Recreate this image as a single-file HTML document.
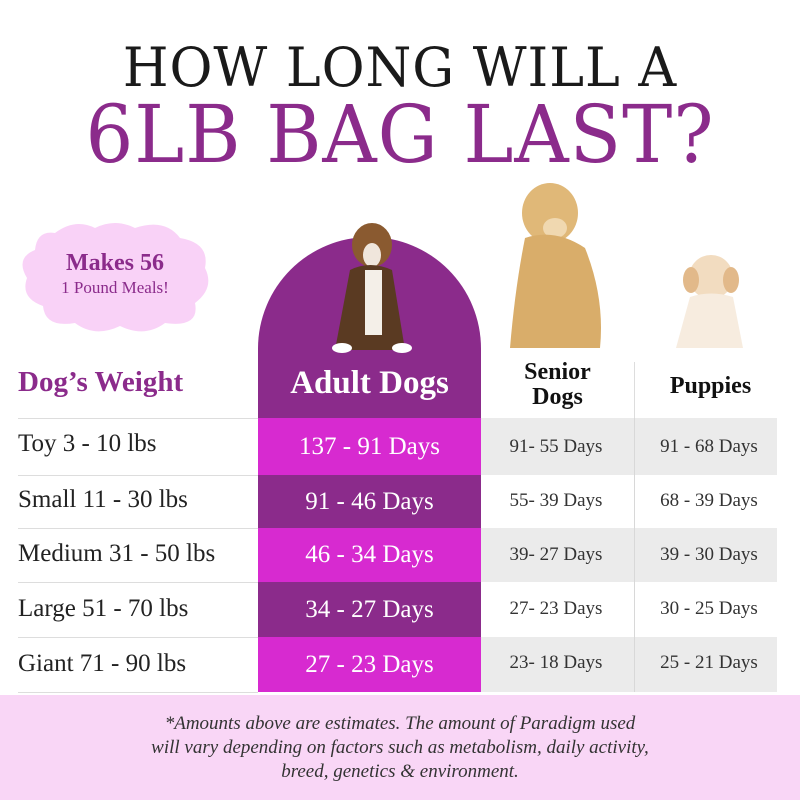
<!DOCTYPE html>
<html><head><style>
body{margin:0;width:800px;height:800px;background:#fff;position:relative;overflow:hidden;font-family:"Liberation Serif",serif;}
.a{position:absolute;}
.t1{top:36px;left:0;width:800px;text-align:center;font-size:54px;color:#1a1a1a;letter-spacing:1px;font-family:"DejaVu Serif",serif;font-weight:300;transform:scaleX(0.97);}
.t2{top:88px;left:0;width:800px;text-align:center;font-size:80px;color:#8b2b8b;letter-spacing:1px;font-family:"DejaVu Serif",serif;transform:scaleX(0.94);}
.lab{left:18px;font-size:25px;color:#222;}
.line{left:18px;width:240px;height:1px;background:#ddd;}
.ad{left:258px;width:223px;color:#fff;text-align:center;font-size:25px;}
.sd{text-align:center;font-size:19px;color:#333;font-family:"Liberation Serif",serif;}
</style></head><body>
<div class="a t1">HOW LONG WILL A</div>
<div class="a t2">6LB BAG LAST?</div>

<svg class="a" style="left:15px;top:218px" width="200" height="120" viewBox="0 0 200 120">
<path d="M40 15 Q60 0 80 10 Q100 0 120 10 Q150 0 165 20 Q195 25 190 50 Q200 70 180 85 Q185 110 150 105 Q130 120 105 108 Q80 120 60 105 Q30 110 28 88 Q5 80 12 60 Q0 40 20 32 Q22 12 40 15Z" fill="#f9d2f7"/>
</svg>
<div class="a" style="left:30px;top:250px;width:170px;text-align:center;color:#8b2b8b;font-size:24px;font-weight:bold;">Makes 56</div>
<div class="a" style="left:30px;top:278px;width:170px;text-align:center;color:#8b2b8b;font-size:17px;">1 Pound Meals!</div>

<div class="a" style="left:258px;top:237px;width:223px;height:181px;background:#8b2b8b;border-radius:112px 112px 0 0;"></div>
<svg class="a" style="left:320px;top:215px" width="100" height="145">
<ellipse cx="52" cy="30" rx="20" ry="22" fill="#8a5a30"/><ellipse cx="52" cy="40" rx="9" ry="12" fill="#f0e6dc"/>
<path d="M30 55 Q50 45 72 55 L85 135 L15 135Z" fill="#5a3a22"/><path d="M45 55 L62 55 L62 120 L45 120Z" fill="#f4efe8"/>
<ellipse cx="22" cy="133" rx="10" ry="5" fill="#fff"/><ellipse cx="82" cy="133" rx="10" ry="5" fill="#fff"/>
</svg>
<svg class="a" style="left:500px;top:178px" width="110" height="175">
<ellipse cx="50" cy="35" rx="28" ry="30" fill="#e0b878"/><ellipse cx="55" cy="50" rx="12" ry="10" fill="#f0d8b0"/>
<path d="M25 60 Q55 50 85 70 Q105 120 100 170 L10 170 Q15 110 25 60Z" fill="#d9ad6a"/>
</svg>
<svg class="a" style="left:668px;top:252px" width="82" height="100">
<ellipse cx="43" cy="25" rx="22" ry="22" fill="#f2dcc0"/><ellipse cx="23" cy="28" rx="8" ry="13" fill="#e2b98a"/><ellipse cx="63" cy="28" rx="8" ry="13" fill="#e2b98a"/>
<path d="M22 45 Q43 38 65 45 L75 96 L8 96Z" fill="#f7ecdf"/>
</svg>

<div class="a" style="left:18px;top:366px;font-size:29px;color:#8b2b8b;font-weight:bold;">Dog’s Weight</div>
<div class="a ad" style="top:365px;font-size:33px;font-weight:bold;">Adult Dogs</div>
<div class="a sd" style="left:481px;top:360px;width:153px;font-size:24px;line-height:25px;font-weight:bold;color:#111;">Senior<br>Dogs</div>
<div class="a sd" style="left:634px;top:373px;width:153px;font-size:24px;font-weight:bold;color:#111;">Puppies</div>
<div class="a" style="left:634px;top:362px;width:1px;height:330px;background:#ddd;"></div>

<div class="a line" style="top:418px"></div>
<div class="a line" style="top:475px"></div>
<div class="a line" style="top:528px"></div>
<div class="a line" style="top:582px"></div>
<div class="a line" style="top:637px"></div>
<div class="a line" style="top:692px"></div>

<div class="a" style="left:481px;top:418px;width:296px;height:57px;background:#ebebeb;"></div>
<div class="a" style="left:481px;top:528px;width:296px;height:54px;background:#ebebeb;"></div>
<div class="a" style="left:481px;top:637px;width:296px;height:55px;background:#ebebeb;"></div>
<div class="a" style="left:634px;top:418px;width:1px;height:274px;background:#d8d8d8;"></div>

<div class="a ad" style="top:418px;height:57px;line-height:57px;background:#d72ad0;">137 - 91 Days</div>
<div class="a ad" style="top:475px;height:53px;line-height:53px;background:#8b2b8b;">91 - 46 Days</div>
<div class="a ad" style="top:528px;height:54px;line-height:54px;background:#d72ad0;">46 - 34 Days</div>
<div class="a ad" style="top:582px;height:55px;line-height:55px;background:#8b2b8b;">34 - 27 Days</div>
<div class="a ad" style="top:637px;height:55px;line-height:55px;background:#d72ad0;">27 - 23 Days</div>

<div class="a lab" style="top:430px">Toy 3 - 10 lbs</div>
<div class="a lab" style="top:486px">Small 11 - 30 lbs</div>
<div class="a lab" style="top:540px">Medium 31 - 50 lbs</div>
<div class="a lab" style="top:595px">Large 51 - 70 lbs</div>
<div class="a lab" style="top:650px">Giant 71 - 90 lbs</div>

<div class="a sd" style="left:481px;top:436px;width:150px">91- 55 Days</div>
<div class="a sd" style="left:481px;top:490px;width:150px">55- 39 Days</div>
<div class="a sd" style="left:481px;top:544px;width:150px">39- 27 Days</div>
<div class="a sd" style="left:481px;top:598px;width:150px">27- 23 Days</div>
<div class="a sd" style="left:481px;top:652px;width:150px">23- 18 Days</div>
<div class="a sd" style="left:634px;top:436px;width:150px">91 - 68 Days</div>
<div class="a sd" style="left:634px;top:490px;width:150px">68 - 39 Days</div>
<div class="a sd" style="left:634px;top:544px;width:150px">39 - 30 Days</div>
<div class="a sd" style="left:634px;top:598px;width:150px">30 - 25 Days</div>
<div class="a sd" style="left:634px;top:652px;width:150px">25 - 21 Days</div>

<div class="a" style="left:0;top:695px;width:800px;height:105px;background:#f9d6f6;"></div>
<div class="a" style="left:0;top:712px;width:800px;text-align:center;font-size:19px;line-height:24px;font-style:italic;color:#333;">*Amounts above are estimates. The amount of Paradigm used<br>will vary depending on factors such as metabolism, daily activity,<br>breed, genetics &amp; environment.</div>
</body></html>
